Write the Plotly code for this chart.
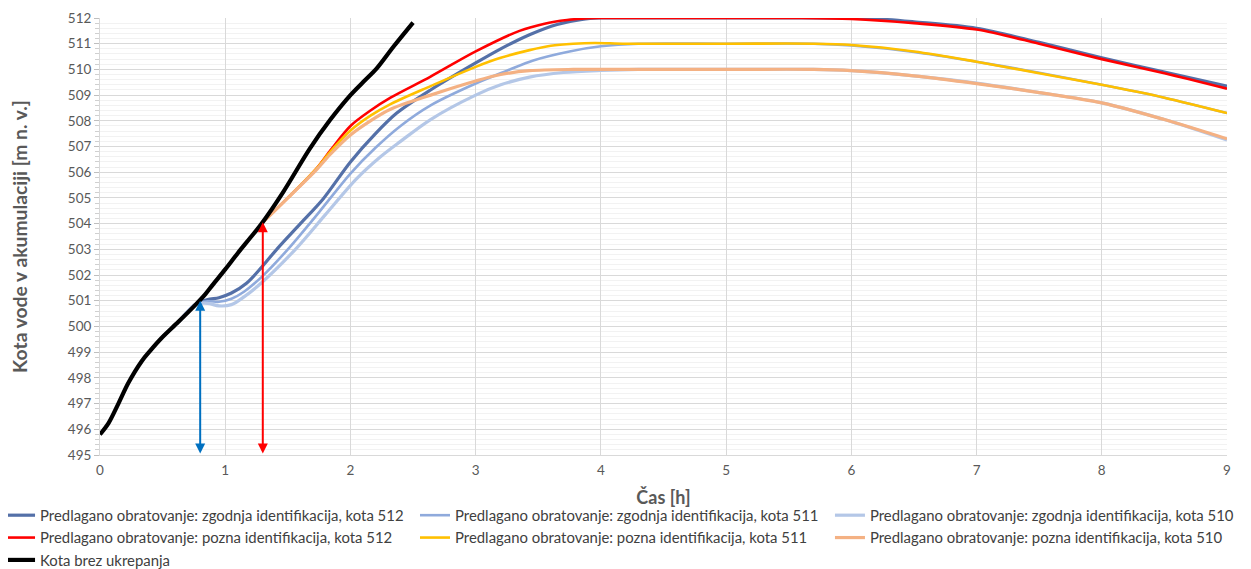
import plotly.graph_objects as go

# ---------------- data ----------------
x_black = [0, 0.067, 0.147, 0.226, 0.333, 0.4, 0.49, 0.626, 0.76, 0.84, 0.9, 1.0, 1.1, 1.2, 1.29, 1.464, 1.677, 1.837, 2.0, 2.1, 2.21, 2.343, 2.5]
y_black = [495.8, 496.23, 497.0, 497.8, 498.65, 499.05, 499.54, 500.18, 500.83, 501.25, 501.62, 502.22, 502.85, 503.45, 504.0, 505.24, 506.93, 508.03, 509.0, 509.5, 510.04, 510.88, 511.82]

x_z512 = [0.5, 0.626, 0.76, 0.86, 0.95, 1.05, 1.17, 1.29, 1.42, 1.6, 1.78, 2.0, 2.2, 2.37, 2.64, 3.0, 3.2, 3.43, 3.65, 3.85, 4.0, 4.5, 5.0, 5.5, 6.0, 6.25, 6.5, 7.0, 7.5, 8.0, 8.5, 9.0]
y_z512 = [499.6, 500.18, 500.85, 501.05, 501.12, 501.3, 501.68, 502.3, 503.05, 504.0, 504.95, 506.4, 507.5, 508.3, 509.2, 510.25, 510.8, 511.35, 511.75, 511.95, 512.0, 512.0, 512.0, 512.0, 511.99, 511.95, 511.85, 511.6, 511.05, 510.45, 509.9, 509.35]

x_z511 = [0.5, 0.626, 0.76, 0.86, 0.95, 1.05, 1.15, 1.3, 1.5, 1.75, 2.0, 2.2, 2.4, 2.64, 3.0, 3.25, 3.46, 3.75, 4.0, 4.3, 5.0, 5.7, 6.0, 6.5, 7.0, 7.5, 8.0, 8.5, 9.0]
y_z511 = [499.6, 500.18, 500.85, 500.98, 500.96, 501.08, 501.35, 501.97, 503.0, 504.45, 505.95, 506.95, 507.8, 508.6, 509.45, 509.95, 510.35, 510.7, 510.9, 511.0, 511.0, 511.0, 510.93, 510.68, 510.3, 509.87, 509.4, 508.9, 508.3]

x_z510 = [0.5, 0.626, 0.76, 0.86, 0.95, 1.05, 1.15, 1.29, 1.57, 1.8, 2.05, 2.24, 2.4, 2.64, 3.0, 3.2, 3.43, 3.7, 4.0, 4.3, 5.0, 5.7, 6.0, 6.5, 7.0, 7.5, 8.0, 8.5, 9.0]
y_z510 = [499.6, 500.18, 500.85, 500.9, 500.8, 500.85, 501.15, 501.7, 503.05, 504.35, 505.75, 506.6, 507.2, 508.05, 509.0, 509.4, 509.7, 509.88, 509.96, 510.0, 510.0, 510.0, 509.95, 509.75, 509.47, 509.1, 508.7, 508.05, 507.25]

x_p512 = [1.29, 1.5, 1.73, 1.84, 2.0, 2.16, 2.32, 2.64, 3.0, 3.35, 3.55, 3.73, 3.9, 4.0, 4.5, 5.0, 5.6, 6.0, 6.5, 7.0, 7.5, 8.0, 8.5, 9.0]
y_p512 = [504.0, 505.0, 506.15, 506.85, 507.8, 508.4, 508.9, 509.72, 510.7, 511.5, 511.78, 511.92, 511.99, 512.0, 512.0, 512.0, 512.0, 511.96, 511.8, 511.55, 511.0, 510.4, 509.85, 509.25]

x_p511 = [1.29, 1.5, 1.73, 1.84, 2.0, 2.16, 2.32, 2.64, 3.0, 3.2, 3.43, 3.6, 3.78, 3.95, 4.2, 5.0, 5.7, 6.0, 6.5, 7.0, 7.5, 8.0, 8.5, 9.0]
y_p511 = [504.0, 505.0, 506.15, 506.8, 507.62, 508.2, 508.65, 509.35, 510.1, 510.45, 510.75, 510.92, 511.0, 511.03, 511.0, 511.0, 511.0, 510.95, 510.7, 510.3, 509.85, 509.4, 508.9, 508.3]

x_p510 = [1.29, 1.5, 1.73, 1.84, 2.0, 2.16, 2.32, 2.64, 3.0, 3.2, 3.43, 3.78, 4.2, 5.0, 5.7, 6.0, 6.5, 7.0, 7.5, 8.0, 8.5, 9.0]
y_p510 = [504.0, 505.0, 506.1, 506.7, 507.45, 508.0, 508.45, 509.0, 509.55, 509.8, 509.95, 510.0, 510.0, 510.0, 510.0, 509.95, 509.75, 509.45, 509.1, 508.7, 508.05, 507.3]

t_early = 0.8   # zgodnja identifikacija
t_late = 1.3    # pozna identifikacija
y_early = 501.0
y_late = 504.05

names = [
    "Predlagano obratovanje: zgodnja identifikacija, kota 512",
    "Predlagano obratovanje: zgodnja identifikacija, kota 511",
    "Predlagano obratovanje: zgodnja identifikacija, kota 510",
    "Predlagano obratovanje: pozna identifikacija, kota 512",
    "Predlagano obratovanje: pozna identifikacija, kota 511",
    "Predlagano obratovanje: pozna identifikacija, kota 510",
    "Kota brez ukrepanja",
]

series = [
    (x_z512, y_z512, "#5470A8", 3.2, "legend"),
    (x_z511, y_z511, "#8FAADC", 2.6, "legend2"),
    (x_z510, y_z510, "#B4C7E7", 3.2, "legend3"),
    (x_p512, y_p512, "#FF0000", 2.6, "legend"),
    (x_p511, y_p511, "#FFC000", 2.6, "legend2"),
    (x_p510, y_p510, "#F4B183", 3.2, "legend3"),
    (x_black, y_black, "#000000", 4.2, "legend"),
]

fig = go.Figure()
for (xs, ys, col, w, lg), nm in zip(series, names):
    fig.add_trace(go.Scatter(x=xs, y=ys, mode="lines", name=nm, legend=lg,
                             line=dict(color=col, width=w, shape="spline", smoothing=0.9)))

arrow_common = dict(xref="x", yref="y", axref="x", ayref="y", text="",
                    showarrow=True, arrowhead=2, startarrowhead=2,
                    arrowside="end+start", arrowsize=1, startarrowsize=1,
                    arrowwidth=2, standoff=0, startstandoff=0)
fig.add_annotation(x=t_early, y=y_early, ax=t_early, ay=495, arrowcolor="#0070C0", **arrow_common)
fig.add_annotation(x=t_late, y=y_late, ax=t_late, ay=495, arrowcolor="#FF0000", **arrow_common)

fontfam = "Lato, Open Sans, sans-serif"
leg_font = dict(size=14.9, color="#404040", family=fontfam)
leg_common = dict(orientation="v", xref="paper", yref="paper", xanchor="left", yanchor="top",
                  y=-0.1007, font=leg_font, itemwidth=30, tracegroupgap=0,
                  bgcolor="rgba(0,0,0,0)")

fig.update_layout(
    width=1243, height=569,
    margin=dict(l=92, r=24, t=10, b=122, autoexpand=False),
    paper_bgcolor="white", plot_bgcolor="white",
    font=dict(family=fontfam, color="#595959", size=13),
    showlegend=True,
    legend=dict(x=-0.0887, **leg_common),
    legend2=dict(x=0.2795, **leg_common),
    legend3=dict(x=0.6477, **leg_common),
    xaxis=dict(range=[0, 9], dtick=1, tick0=0, automargin=False,
               showgrid=True, gridcolor="#D9D9D9", gridwidth=1,
               zeroline=False, showline=True, linecolor="#D9D9D9",
               ticks="", tickfont=dict(size=13.5, color="#595959"),
               ticklabelstandoff=3,
               title=dict(text="<b>Čas [h]</b>", font=dict(size=18, color="#595959"), standoff=14)),
    yaxis=dict(range=[495, 512], dtick=1, tick0=495, automargin=False,
               showgrid=True, gridcolor="#D9D9D9", gridwidth=1,
               zeroline=False, showline=True, linecolor="#D9D9D9",
               ticks="outside", ticklen=5, tickcolor="#BFBFBF",
               tickfont=dict(size=13.5, color="#595959"),
               minor=dict(dtick=0.2, showgrid=True, gridcolor="#F2F2F2",
                          ticks="outside", ticklen=4, tickcolor="#D0D0D0"),
               title=dict(text="<b>Kota vode v akumulaciji [m n. v.]</b>",
                          font=dict(size=19.3, color="#595959"), standoff=35)),
)

fig.write_html("out.html")
